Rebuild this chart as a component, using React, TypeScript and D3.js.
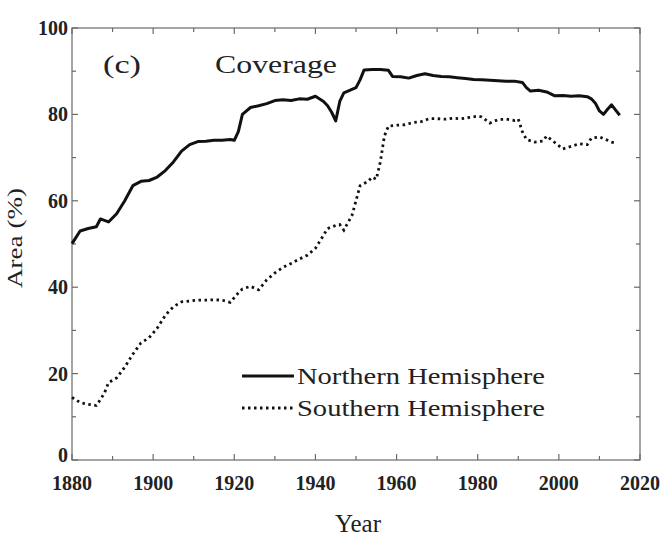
import React, { useRef, useEffect } from 'react';
import * as d3 from 'd3';

// Northern Hemisphere coverage (%)
const nhYears = [1880, 1882, 1884, 1886, 1887, 1889, 1891, 1893, 1895, 1897, 1899, 1901, 1903, 1905, 1907, 1909, 1911, 1913, 1915, 1917, 1919, 1920, 1921, 1922, 1924, 1926, 1928, 1930, 1932, 1934, 1936, 1938, 1940, 1942, 1943, 1944, 1945, 1946, 1947, 1949, 1950, 1951, 1952, 1954, 1956, 1958, 1959, 1961, 1963, 1965, 1967, 1969, 1971, 1973, 1975, 1977, 1979, 1981, 1983, 1985, 1987, 1989, 1991, 1992, 1993, 1995, 1997, 1999, 2001, 2003, 2005, 2007, 2008, 2009, 2010, 2011, 2012, 2013, 2014, 2015];
const nhValues = [50.1, 53, 53.6, 54, 55.8, 55.1, 57, 60, 63.5, 64.5, 64.7, 65.5, 67, 69, 71.5, 73, 73.7, 73.8, 74, 74, 74.2, 74, 76, 80, 81.6, 82, 82.5, 83.2, 83.4, 83.2, 83.6, 83.5, 84.2, 83, 82, 80.5, 78.5, 83, 85, 85.8, 86.2, 88, 90.3, 90.4, 90.4, 90.2, 88.8, 88.7, 88.4, 89, 89.4, 89, 88.8, 88.7, 88.5, 88.3, 88.1, 88, 87.9, 87.8, 87.7, 87.7, 87.4, 86.2, 85.4, 85.6, 85.2, 84.3, 84.4, 84.2, 84.3, 84.1, 83.6, 82.6, 80.8, 80, 81.2, 82.2, 81, 79.8];

// Southern Hemisphere coverage (%)
const shYears = [1880, 1882, 1884, 1886, 1887, 1888, 1889, 1891, 1893, 1895, 1897, 1899, 1901, 1903, 1905, 1907, 1909, 1911, 1913, 1915, 1917, 1919, 1921, 1922, 1924, 1926, 1928, 1930, 1932, 1934, 1936, 1938, 1940, 1941, 1943, 1945, 1946, 1947, 1949, 1950, 1951, 1953, 1954, 1955, 1956, 1957, 1958, 1960, 1962, 1964, 1966, 1968, 1970, 1972, 1974, 1976, 1978, 1980, 1981, 1983, 1985, 1987, 1989, 1990, 1991, 1992, 1994, 1996, 1997, 1999, 2001, 2003, 2005, 2007, 2008, 2010, 2012, 2013, 2014];
const shValues = [14.5, 13.3, 12.9, 12.6, 14, 15.5, 17.9, 19, 21.5, 24.5, 27.1, 28.3, 30.5, 33.5, 35.5, 36.6, 36.8, 37, 37, 37.1, 37, 36.5, 38.7, 39.6, 40.2, 39.4, 41.7, 43.3, 44.6, 45.5, 46.5, 47.4, 49, 50.5, 53.6, 54.3, 54.5, 53.2, 56.6, 60, 63.5, 64.5, 65.5, 65, 69, 75, 77.3, 77.5, 77.6, 78.1, 78.3, 79, 79, 78.9, 79.1, 79, 79.3, 79.6, 79.4, 78, 78.8, 78.9, 78.6, 78.9, 76, 74.2, 73.6, 73.8, 75, 73.5, 72, 72.6, 73.2, 73, 74.5, 74.8, 74, 73.6, 73.4];

const xTicks = [1880, 1900, 1920, 1940, 1960, 1980, 2000, 2020];
const yTicks = [0, 20, 40, 60, 80, 100];
const legendLabels = ['Northern Hemisphere', 'Southern Hemisphere'];

const Chart = () => {
  const svgRef = useRef(null);
  const width = 665;
  const height = 537;
  const margin = { top: 28, right: 25, bottom: 77, left: 72 };
  const font = '"Liberation Serif", "DejaVu Serif", serif';

  useEffect(() => {
    const svg = d3.select(svgRef.current)
      .attr('width', width)
      .attr('height', height);
    svg.selectAll('*').remove();

    const x = d3.scaleLinear()
      .domain([1880, 2020])
      .range([margin.left, width - margin.right]);
    const y = d3.scaleLinear()
      .domain([0, 100])
      .range([height - margin.bottom, margin.top]);

    const frame = '#6a6a6a';

    // frame box
    svg.append('rect')
      .attr('x', x(1880))
      .attr('y', y(100))
      .attr('width', x(2020) - x(1880))
      .attr('height', y(0) - y(100))
      .attr('fill', 'none')
      .attr('stroke', frame)
      .attr('stroke-width', 1.2);

    // ticks, pointing inward
    const g = svg.append('g').attr('stroke', frame).attr('stroke-width', 1.2);
    d3.range(0, 101, 10).forEach(v => {
      const len = v % 20 === 0 ? 6 : 4;
      g.append('line').attr('x1', x(1880)).attr('x2', x(1880) + len).attr('y1', y(v)).attr('y2', y(v));
      g.append('line').attr('x1', x(2020)).attr('x2', x(2020) - len).attr('y1', y(v)).attr('y2', y(v));
    });
    d3.range(1880, 2021, 10).forEach(v => {
      const len = v % 20 === 0 ? 6 : 4;
      g.append('line').attr('x1', x(v)).attr('x2', x(v)).attr('y1', y(0)).attr('y2', y(0) - len);
      g.append('line').attr('x1', x(v)).attr('x2', x(v)).attr('y1', y(100)).attr('y2', y(100) + len);
    });

    // tick labels
    svg.append('g')
      .selectAll('text')
      .data(yTicks)
      .enter()
      .append('text')
      .attr('x', x(1880) - 4)
      .attr('y', d => y(d) + (d === 0 ? 2 : 7))
      .attr('text-anchor', 'end')
      .attr('font-family', font)
      .attr('font-size', 20)
      .attr('font-weight', 'bold')
      .attr('fill', '#222')
      .text(d => d);

    svg.append('g')
      .selectAll('text')
      .data(xTicks)
      .enter()
      .append('text')
      .attr('x', d => x(d))
      .attr('y', 490)
      .attr('text-anchor', 'middle')
      .attr('font-family', font)
      .attr('font-size', 20)
      .attr('font-weight', 'bold')
      .attr('fill', '#222')
      .text(d => d);

    // axis titles
    svg.append('text')
      .attr('x', 358)
      .attr('y', 532)
      .attr('text-anchor', 'middle')
      .attr('font-family', font)
      .attr('font-size', 25)
      .attr('fill', '#222')
      .text('Year');

    svg.append('text')
      .attr('transform', 'translate(22,238) rotate(-90)')
      .attr('text-anchor', 'middle')
      .attr('font-family', font)
      .attr('font-size', 22)
      .attr('textLength', 100)
      .attr('lengthAdjust', 'spacingAndGlyphs')
      .attr('fill', '#222')
      .text('Area (%)');

    // panel title
    svg.append('text')
      .attr('x', 103)
      .attr('y', 73)
      .attr('font-family', font)
      .attr('font-size', 25)
      .attr('textLength', 38)
      .attr('lengthAdjust', 'spacingAndGlyphs')
      .attr('fill', '#222')
      .text('(c)');
    svg.append('text')
      .attr('x', 215)
      .attr('y', 73)
      .attr('font-family', font)
      .attr('font-size', 25)
      .attr('textLength', 122)
      .attr('lengthAdjust', 'spacingAndGlyphs')
      .attr('fill', '#222')
      .text('Coverage');

    // series
    const line = d3.line<[number, number]>()
      .x(d => x(d[0]))
      .y(d => y(d[1]));

    const nh: [number, number][] = nhYears.map((yr, i) => [yr, nhValues[i]]);
    const sh: [number, number][] = shYears.map((yr, i) => [yr, shValues[i]]);

    svg.append('path')
      .datum(sh)
      .attr('d', line)
      .attr('fill', 'none')
      .attr('stroke', '#111')
      .attr('stroke-width', 2.8)
      .attr('stroke-dasharray', '2.5,3.5');

    svg.append('path')
      .datum(nh)
      .attr('d', line)
      .attr('fill', 'none')
      .attr('stroke', '#111')
      .attr('stroke-width', 3)
      .attr('stroke-linejoin', 'round');

    // legend
    const legend = svg.append('g');
    legendLabels.forEach((label, i) => {
      const ly = 376 + i * 32;
      legend.append('line')
        .attr('x1', 242)
        .attr('x2', 294)
        .attr('y1', ly)
        .attr('y2', ly)
        .attr('stroke', '#111')
        .attr('stroke-width', i === 0 ? 3 : 2.8)
        .attr('stroke-dasharray', i === 0 ? null : '2.5,3.5');
      legend.append('text')
        .attr('x', 297)
        .attr('y', ly + 8)
        .attr('font-family', font)
        .attr('font-size', 24)
        .attr('textLength', 248)
        .attr('lengthAdjust', 'spacingAndGlyphs')
        .attr('fill', '#222')
        .text(label);
    });
  }, []);

  return <svg ref={svgRef} style={{ position: 'absolute', left: 0, top: 0 }}></svg>;
};

export default function App() {
  return <Chart />;
}
